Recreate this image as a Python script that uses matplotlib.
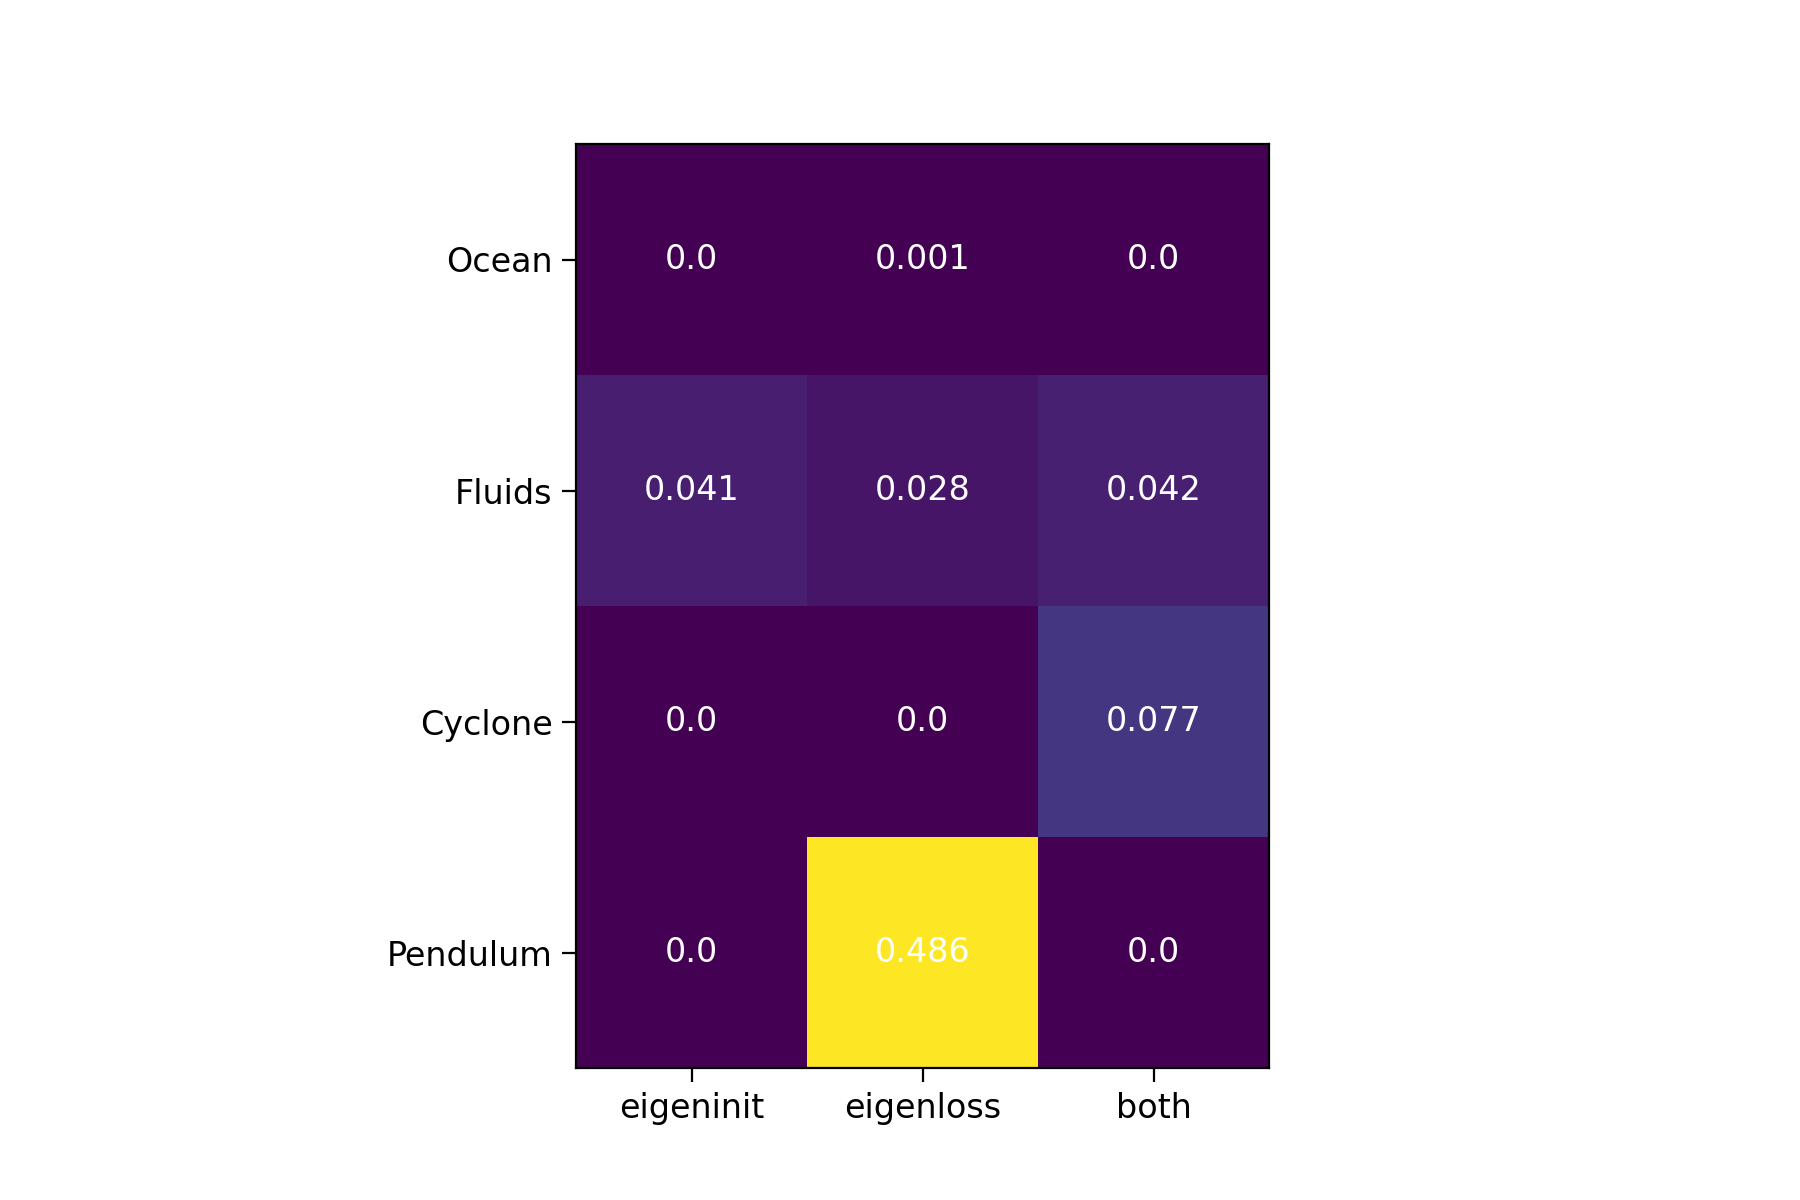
import matplotlib
matplotlib.use("Agg")
import matplotlib.pyplot as plt
import numpy as np

datasets = ["Ocean", "Fluids", "Cyclone", "Pendulum"]
methods = ["eigeninit", "eigenloss", "both"]
values = np.array([
    [0.0, 0.001, 0.0],
    [0.041, 0.028, 0.042],
    [0.0, 0.0, 0.077],
    [0.0, 0.486, 0.0],
])

fig, ax = plt.subplots(figsize=(9, 6))
ax.imshow(values, cmap="viridis")
ax.set_xticks(range(len(methods)))
ax.set_xticklabels(methods, fontsize=12)
ax.set_yticks(range(len(datasets)))
ax.set_yticklabels(datasets, fontsize=12)
ax.tick_params(length=5)
for i in range(len(datasets)):
    for j in range(len(methods)):
        ax.text(j, i, str(values[i, j]), ha="center", va="center",
                color="w", fontsize=12)

plt.savefig("out.png", dpi=200)
plt.close()
